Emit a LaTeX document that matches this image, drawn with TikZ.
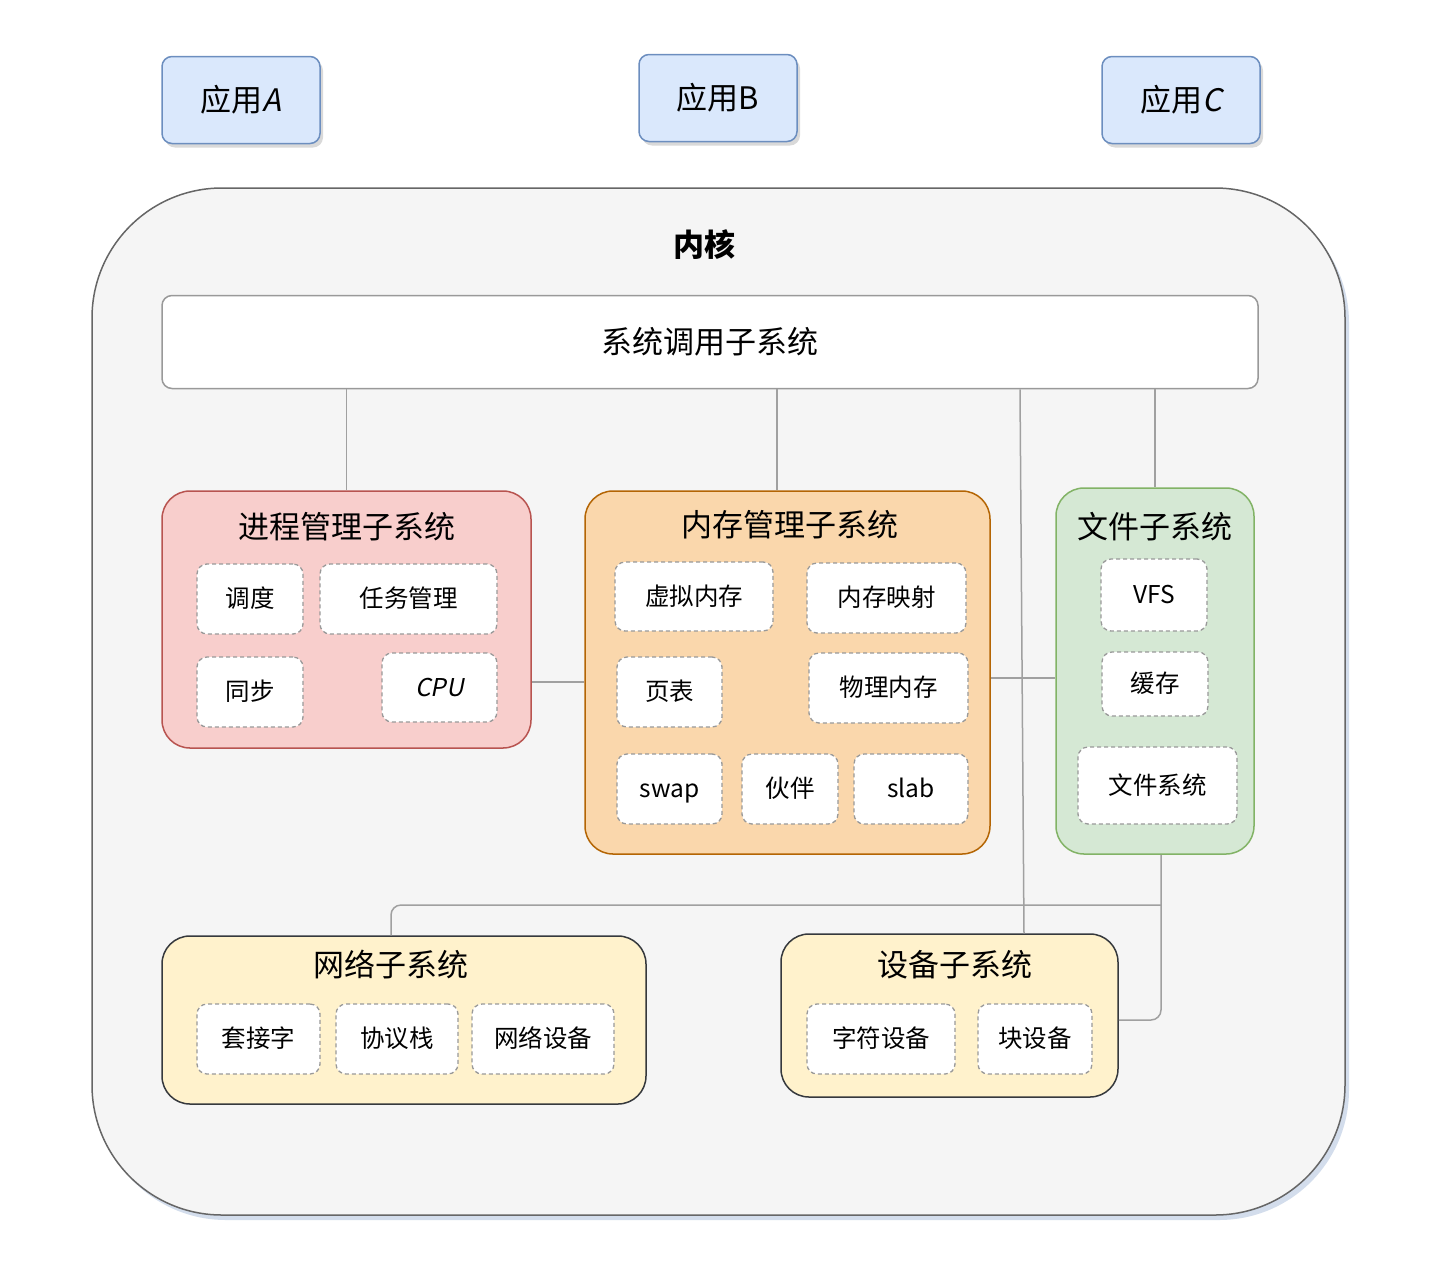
\documentclass[tikz,border=0pt]{standalone}
\usepackage{fontspec}
\setmainfont{Noto Sans CJK SC}
\newfontfamily\slantfont[FakeSlant=0.2]{Noto Sans CJK SC}
\usetikzlibrary{shadows,calc}
\definecolor{appfill}{HTML}{DAE8FC}
\definecolor{appline}{HTML}{6C8EBF}
\definecolor{kfill}{HTML}{F5F5F5}
\definecolor{kline}{HTML}{666666}
\definecolor{pfill}{HTML}{F8CECC}
\definecolor{pline}{HTML}{B85450}
\definecolor{mfill}{HTML}{FAD7AC}
\definecolor{mline}{HTML}{B46504}
\definecolor{ffill}{HTML}{D5E8D4}
\definecolor{fline}{HTML}{82B366}
\definecolor{yfill}{HTML}{FFF2CC}
\definecolor{yline}{HTML}{36393D}
\definecolor{conncol}{HTML}{A0A0A0}
\definecolor{dashcol}{HTML}{999999}
\begin{document}
\begin{tikzpicture}[x=1pt,y=-1pt,
  app/.style={draw=appline,fill=appfill,line width=1.5pt,rounded corners=10pt,
    drop shadow={shadow xshift=3pt,shadow yshift=-4pt,opacity=0.3},
    font=\fontsize{31}{34}\selectfont,inner sep=0pt},
  sub/.style={line width=1.5pt,rounded corners=28pt,inner sep=0pt},
  item/.style={draw=dashcol,fill=white,dash pattern=on 4pt off 3pt,line width=1.3pt,
    rounded corners=10pt,font=\fontsize{24.5}{28}\selectfont,inner sep=0pt,
    text height=21pt,text depth=4pt},
  ttl/.style={font=\fontsize{31}{34}\selectfont,inner sep=0pt},
  conn/.style={draw=conncol,line width=1.5pt}]
\useasboundingbox (0,0) rectangle (1452,1262);
% kernel
\node[draw=kline,fill=kfill,line width=1.5pt,rounded corners=130pt,inner sep=0pt,
  minimum width=1253pt,minimum height=1027pt,
  drop shadow={shadow xshift=4pt,shadow yshift=-5pt,opacity=0.3,fill=appline}] (kernel) at (718.5,701.5) {};
\node[ttl,font=\fontsize{31}{34}\selectfont\bfseries] (ktitle) at (704,245) {内核};
% apps
\node[app,minimum width=158pt,minimum height=87pt] (appA) at (241,100) {应用{\slantfont A}};
\node[app,minimum width=158pt,minimum height=87pt] (appB) at (718,98) {应用B};
\node[app,minimum width=158pt,minimum height=87pt] (appC) at (1181,100) {应用{\slantfont C}};
% syscall
\node[draw=dashcol,fill=white,line width=1.5pt,rounded corners=10pt,inner sep=0pt,
  minimum width=1096pt,minimum height=93pt,font=\fontsize{31}{34}\selectfont] (sys) at (710,342) {系统调用子系统};
% process
\node[sub,draw=pline,fill=pfill,minimum width=369pt,minimum height=257pt] (proc) at (346.5,619.5) {};
\node[ttl] (proct) at (347,527) {进程管理子系统};
\node[item,minimum width=106pt,minimum height=70pt] (p1) at (250,599) {调度};
\node[item,minimum width=177pt,minimum height=70pt] (p2) at (408.5,599) {任务管理};
\node[item,minimum width=106pt,minimum height=70pt] (p3) at (250,692) {同步};
\node[item,minimum width=115pt,minimum height=69pt] (p4) at (439.5,687.5) {{\slantfont CPU}};
% memory
\node[sub,draw=mline,fill=mfill,minimum width=405pt,minimum height=363pt] (mem) at (787.5,672.5) {};
\node[ttl] (memt) at (790,525) {内存管理子系统};
\node[item,minimum width=158pt,minimum height=69pt] (m1) at (694,596.5) {虚拟内存};
\node[item,minimum width=159pt,minimum height=70pt] (m2) at (886.5,598) {内存映射};
\node[item,minimum width=105pt,minimum height=70pt] (m3) at (669.5,692) {页表};
\node[item,minimum width=159pt,minimum height=70pt] (m4) at (888.5,688) {物理内存};
\node[item,minimum width=105pt,minimum height=70pt] (m5) at (669.5,789) {swap};
\node[item,minimum width=96pt,minimum height=70pt] (m6) at (790,789) {伙伴};
\node[item,minimum width=114pt,minimum height=70pt] (m7) at (911,789) {slab};
% file
\node[sub,draw=fline,fill=ffill,minimum width=198pt,minimum height=366pt] (file) at (1155,671) {};
\node[ttl] (filet) at (1155,527) {文件子系统};
\node[item,minimum width=106pt,minimum height=72pt] (f1) at (1154,595) {VFS};
\node[item,minimum width=106pt,minimum height=64pt] (f2) at (1155,684) {缓存};
\node[item,minimum width=159pt,minimum height=77pt] (f3) at (1157.5,785.5) {文件系统};
% network
\node[sub,draw=yline,fill=yfill,minimum width=484pt,minimum height=168pt] (net) at (404,1020) {};
\node[ttl] (nett) at (391,965) {网络子系统};
\node[item,minimum width=123pt,minimum height=70pt] (n1) at (258.5,1039) {套接字};
\node[item,minimum width=122pt,minimum height=70pt] (n2) at (397,1039) {协议栈};
\node[item,minimum width=142pt,minimum height=70pt] (n3) at (543,1039) {网络设备};
% device
\node[sub,draw=yline,fill=yfill,minimum width=337pt,minimum height=163pt] (dev) at (949.5,1015.5) {};
\node[ttl] (devt) at (955,965) {设备子系统};
\node[item,minimum width=148pt,minimum height=70pt] (d1) at (881,1039) {字符设备};
\node[item,minimum width=114pt,minimum height=70pt] (d2) at (1035,1039) {块设备};
% connectors
\draw[conn] (sys.south -| proc.north) -- (proc.north);
\draw[conn] (sys.south -| 777,0) -- (mem.north -| 777,0);
\draw[conn] (sys.south -| 1020,0) -- (dev.north -| 1024,0);
\draw[conn] (sys.south -| 1155,0) -- (file.north -| 1155,0);
\draw[conn] (proc.east |- 0,682) -- (mem.west |- 0,682);
\draw[conn] (mem.east |- 0,678) -- (file.west |- 0,678);
\draw[conn,rounded corners=10pt] (file.south -| 1161,0) |- (dev.east |- 0,1020);
\coordinate (j) at (1161,905);
\draw[conn,rounded corners=10pt] (j) -| (net.north -| 391,0);
\end{tikzpicture}
\end{document}
